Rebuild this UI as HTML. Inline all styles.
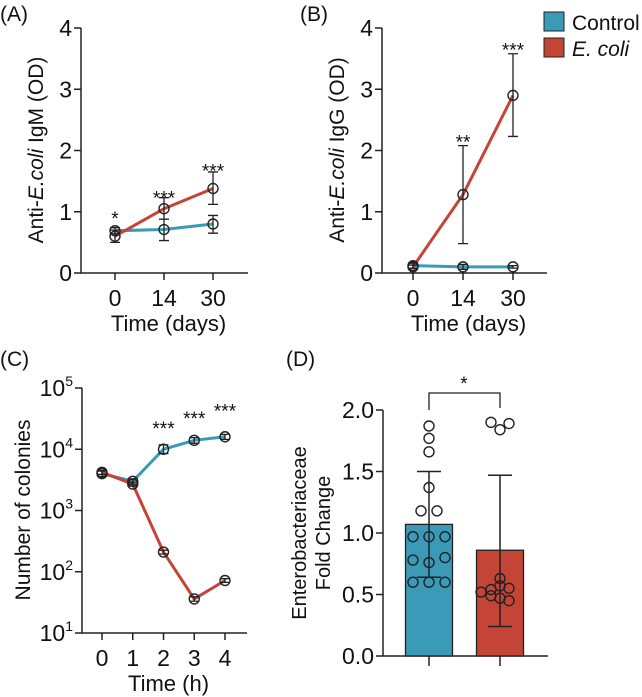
<!DOCTYPE html>
<html><head><meta charset="utf-8"><style>
html,body{margin:0;padding:0;background:#fff;}
svg{display:block;font-family:"Liberation Sans",Arial,sans-serif;}
</style></head><body>
<svg id="fig" width="642" height="697" viewBox="0 0 642 697"></svg>
<script>
const BLUE='#3a9ab8', RED='#c44536';
// Panel A data
const aDays=['0','14','30'];
const aCtrl=[0.69,0.71,0.80], aCtrlLo=[0.64,0.53,0.65], aCtrlHi=[0.74,0.88,0.94];
const aEcoli=[0.60,1.05,1.38], aEcoliLo=[0.50,0.88,1.12], aEcoliHi=[0.70,1.23,1.65];
const aStars=['*','***','***'], aStarVal=[0.95,1.28,1.72];
// Panel B data
const bDays=['0','14','30'];
const bCtrl=[0.12,0.10,0.10], bCtrlLo=[0.08,0.06,0.08], bCtrlHi=[0.16,0.14,0.12];
const bEcoli=[0.10,1.28,2.90], bEcoliLo=[0.07,0.48,2.23], bEcoliHi=[0.13,2.08,3.58];
const bStars=['','**','***'], bStarVal=[0,2.2,3.7];
const odTicks=[0,1,2,3,4];
// Panel C data
const cHours=['0','1','2','3','4'];
const cCtrl=[4000,3000,10000,14000,16000], cCtrlLo=[3600,2700,8500,12500,14500], cCtrlHi=[4400,3300,11800,15500,17500];
const cEcoli=[4200,2700,210,36,72], cEcoliLo=[3900,2500,195,33,67], cEcoliHi=[4500,2900,225,39,77];
const cStars=['','','***','***','***'], cStarVal=[0,0,25000,36000,48000];
const cTickExp=[1,2,3,4,5];
// Panel D data
const dGroups=['Control','E. coli'];
const dMeans=[1.07,0.86], dLo=[0.64,0.24], dHi=[1.50,1.47];
const dCtrlPts=[1.87,1.77,1.66,1.37,1.18,1.18,0.97,0.97,0.97,0.78,0.76,0.80,0.60,0.60,0.60];
const dCtrlJit=[0,0,0,0,-8,8,-16,0,16,-16,0,16,-16,0,16];
const dEcoliPts=[1.90,1.84,1.89,0.63,0.57,0.52,0.54,0.55,0.49,0.47,0.45];
const dEcoliJit=[-9,0,9,0,0,-19,-9,9,-9,0,9];
const dTicks=['0.0','0.5','1.0','1.5','2.0'];

const svg=document.getElementById('fig');
const NS='http://www.w3.org/2000/svg';
function el(tag,attrs,parent){const e=document.createElementNS(NS,tag);for(const k in attrs)e.setAttribute(k,attrs[k]);(parent||svg).appendChild(e);return e;}
function txt(s,x,y,attrs,parent){const t=el('text',Object.assign({x:x,y:y,fill:'#111'},attrs),parent);t.textContent=s;return t;}

function lineChart(o){
  const g=el('g',{});
  
  
  const X=i=>o.x0+i*o.dx;
  const Y=o.Y;
  const ax=el('path',{d:`M${o.ax} ${o.yTop}V${o.yBot}H${o.axEnd}`,stroke:'#222','stroke-width':1.5,fill:'none'},g);
  
  
  o.yticks.forEach((v,i)=>{
    const y=Y(v);
    el('line',{x1:o.ax-7,x2:o.ax,y1:y,y2:y,stroke:'#222','stroke-width':1.5},g);
    const t=txt('',o.ax-9,y+8,{'font-size':23,'text-anchor':'end'},g);
    
    
    if(o.log){t.textContent='10';const s=el('tspan',{dy:-10,'font-size':14},t);s.textContent=o.ylabels[i];}
    else t.textContent=o.ylabels[i];
  });
  o.cats.forEach((c,i)=>{
    el('line',{x1:X(i),x2:X(i),y1:o.yBot,y2:o.yBot+7,stroke:'#222','stroke-width':1.5},g);
    const t=txt(c,X(i),o.yBot+33,{'font-size':23,'text-anchor':'middle'},g);
    
    
  });
  const xt=txt(o.xtitle,(o.ax+o.axEnd)/2+4,o.yBot+58,{'font-size':22,'text-anchor':'middle'},g);
  
  
  const yt=el('text',{transform:`translate(${o.ylx},${o.yly}) rotate(-90)`,'font-size':21,'text-anchor':'middle',fill:'#111'},g);
  
  
  o.ytitle.forEach(p=>{const s=el('tspan',p[1]?{'font-style':'italic'}:{},yt);s.textContent=p[0];});
  [[o.ctrl,BLUE,'control'],[o.ecoli,RED,'ecoli']].forEach(([v,col,nm])=>{
    const ln=el('polyline',{points:v.map((d,i)=>X(i)+','+Y(d)).join(' '),stroke:col,'stroke-width':3,fill:'none'},g);
    
    
  });
  [[o.ctrl,o.ctrlLo,o.ctrlHi,'control'],[o.ecoli,o.ecoliLo,o.ecoliHi,'ecoli']].forEach(([v,lo,hi,nm])=>{
    v.forEach((d,i)=>{
      const x=X(i);
      el('path',{d:`M${x} ${Y(lo[i])}V${Y(hi[i])}M${x-5} ${Y(lo[i])}H${x+5}M${x-5} ${Y(hi[i])}H${x+5}`,stroke:'#222','stroke-width':1.3,fill:'none'},g);
      const c=el('circle',{cx:x,cy:Y(d),r:5,fill:'none',stroke:'#222','stroke-width':1.4},g);
      
      
    });
  });
  o.stars.forEach((s,i)=>{ if(!s)return;
    const t=txt(s,X(i),Y(o.starVal[i])+10,{'font-size':19,'text-anchor':'middle'},g);
    
    
  });
  const pl=txt(o.panel,o.plX,o.plY,{'font-size':21},g);
  
  
}

const Yod=v=>273-v*(245/4);
lineChart({name:'panel-a',ax:81,axEnd:248,yTop:28,yBot:273,x0:115,dx:49,Y:Yod,yticks:odTicks,ylabels:odTicks.map(String),cats:aDays,
  xtitle:'Time (days)',ytitle:[['Anti-'],['E.coli',1],[' IgM (OD)']],ylx:43,yly:150,
  ctrl:aCtrl,ctrlLo:aCtrlLo,ctrlHi:aCtrlHi,ecoli:aEcoli,ecoliLo:aEcoliLo,ecoliHi:aEcoliHi,stars:aStars,starVal:aStarVal,panel:'(A)',plX:0,plY:21});
lineChart({name:'panel-b',ax:382,axEnd:547,yTop:28,yBot:273,x0:413,dx:50,Y:Yod,yticks:odTicks,ylabels:odTicks.map(String),cats:bDays,
  xtitle:'Time (days)',ytitle:[['Anti-'],['E.coli',1],[' IgG (OD)']],ylx:344,yly:150,
  ctrl:bCtrl,ctrlLo:bCtrlLo,ctrlHi:bCtrlHi,ecoli:bEcoli,ecoliLo:bEcoliLo,ecoliHi:bEcoliHi,stars:bStars,starVal:bStarVal,panel:'(B)',plX:300,plY:21});
const Ylog=v=>633-(Math.log10(v)-1)*61.25;
lineChart({name:'panel-c',ax:82,axEnd:247,yTop:388,yBot:633,x0:102,dx:30.75,Y:Ylog,log:true,yticks:cTickExp.map(e=>Math.pow(10,e)),ylabels:cTickExp.map(String),cats:cHours,
  xtitle:'Time (h)',ytitle:[['Number of colonies']],ylx:30,yly:510,
  ctrl:cCtrl,ctrlLo:cCtrlLo,ctrlHi:cCtrlHi,ecoli:cEcoli,ecoliLo:cEcoliLo,ecoliHi:cEcoliHi,stars:cStars,starVal:cStarVal,panel:'(C)',plX:0,plY:366});

// Legend
[['Control',BLUE,false,12],['E. coli',RED,true,38]].forEach(([n,c,it,y])=>{
  const r=el('rect',{x:544,y:y,width:20,height:19,fill:c,stroke:'#222','stroke-width':1});
  
  
  const t=txt(n,572,y+18,{'font-size':21,'font-style':it?'italic':'normal'});
  
  
});

// Panel D
(function(){
  const g=el('g',{});
  
  
  const Y=v=>656-v*123;
  const X=[429,500];
  el('path',{d:`M383 410V656H548`,stroke:'#222','stroke-width':1.5,fill:'none'},g);
  dTicks.forEach(s=>{const y=Y(+s);
    el('line',{x1:376,x2:383,y1:y,y2:y,stroke:'#222','stroke-width':1.5},g);
    const t=txt(s,374,y+8,{'font-size':23,'text-anchor':'end'},g);
    
    
  });
  dGroups.forEach((n,i)=>{
    el('line',{x1:X[i],x2:X[i],y1:656,y2:666,stroke:'#222','stroke-width':1.5},g);
    const b=el('rect',{x:X[i]-23.5,y:Y(dMeans[i]),width:47,height:656-Y(dMeans[i]),fill:i?RED:BLUE,stroke:'#222','stroke-width':1.3},g);
    
    
  });
  [[dCtrlPts,dCtrlJit,0],[dEcoliPts,dEcoliJit,1]].forEach(([p,j,i])=>{
    p.forEach((v,k)=>{const c=el('circle',{cx:X[i]+j[k],cy:Y(v),r:5,fill:'none',stroke:'#222','stroke-width':1.4},g);
      
      });
  });
  dGroups.forEach((n,i)=>{
    el('path',{d:`M${X[i]} ${Y(dLo[i])}V${Y(dHi[i])}M${X[i]-12} ${Y(dLo[i])}H${X[i]+12}M${X[i]-12} ${Y(dHi[i])}H${X[i]+12}`,stroke:'#222','stroke-width':1.5,fill:'none'},g);
  });
  const br=el('path',{d:`M${X[0]} 410V393H${X[1]}V408`,stroke:'#222','stroke-width':1.3,fill:'none'},g);
  
  
  const st=txt('*',464,390,{'font-size':19,'text-anchor':'middle'},g);
  
  
  const yt=el('text',{transform:'translate(306,533) rotate(-90)','font-size':20,'text-anchor':'middle',fill:'#111'},g);
  yt.textContent='Enterobacteriaceae';
  
  
  const yt2=el('text',{transform:'translate(330,533) rotate(-90)','font-size':20,'text-anchor':'middle',fill:'#111'},g);
  yt2.textContent='Fold Change';
  
  
  const pl=txt('(D)',286,366,{'font-size':21},g);
  
  
})();
</script>
</body></html>
